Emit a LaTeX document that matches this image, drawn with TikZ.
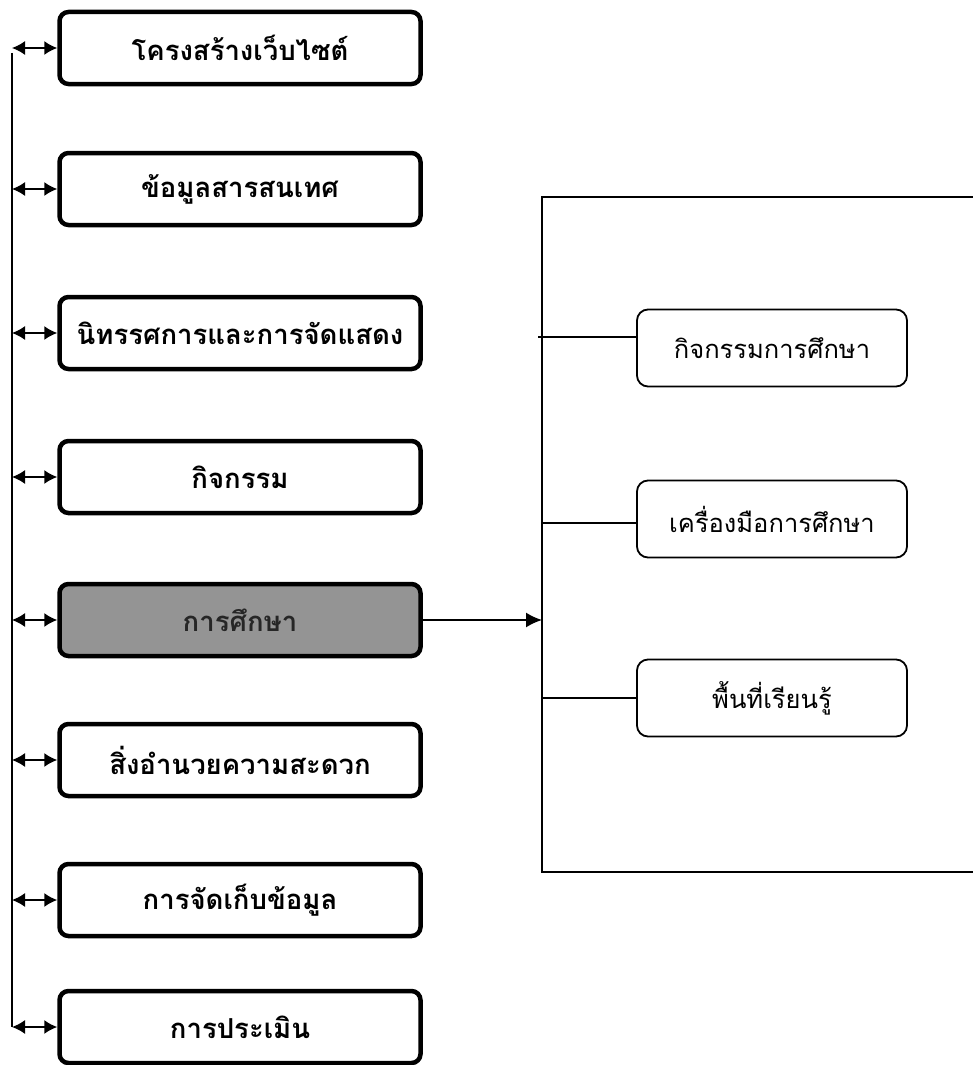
\documentclass[tikz,border=0pt]{standalone}
\usepackage{fontspec}
\newfontfamily\thaifont[Script=Thai]{Loma}
\usetikzlibrary{arrows.meta}
\begin{document}
\begin{tikzpicture}[x=1pt,y=-1pt,line width=1.6pt,
    menubox/.style={draw,line width=4.5pt,rounded corners=9pt,minimum width=361pt,minimum height=72pt,
      font=\thaifont\bfseries\fontsize{27.5}{32}\selectfont},
    current/.style={menubox,fill=black!42,text=black!85},
    subbox/.style={draw,line width=1.8pt,rounded corners=11pt,minimum width=270pt,minimum height=77pt,
      font=\thaifont\fontsize{25.5}{30}\selectfont},
    link/.style={arrows={Latex[length=13pt,width=14pt]-Latex[length=13pt,width=14pt]}},
    feed/.style={arrows={-Latex[length=16pt,width=15pt]}}]
    \useasboundingbox(0,0)rectangle(973,1065);
    \foreach \i/\y/\s/\t in {1/48/menubox/โครงสร้างเว็บไซต์,2/189/menubox/ข้อมูลสารสนเทศ,
        3/333/menubox/นิทรรศการและการจัดแสดง,4/477/menubox/กิจกรรม,5/620/current/การศึกษา,
        6/760/menubox/สิ่งอำนวยความสะดวก,7/900/menubox/การจัดเก็บข้อมูล,8/1027/menubox/การประเมิน}
        \node[\s](m\i)at(240,\y){\t};
    \coordinate(trunk)at(12,0);
    \draw(trunk|-m1)++(0,5)--(trunk|-m8);
    \foreach \i in {1,...,8}\draw[link](trunk|-m\i)--(m\i.west);
    \coordinate(ftop)at(542,197);\coordinate(fbot)at(542,872);
    \draw(ftop)++(440,0)--(ftop)--(fbot)--++(440,0);
    \draw[feed](m5.east)--(m5-|ftop);
    \node[subbox](k1)at(772,348){กิจกรรมการศึกษา};
    \node[subbox](k2)at(772,519){เครื่องมือการศึกษา};
    \node[subbox](k3)at(772,698){พื้นที่เรียนรู้};
    \coordinate(j1)at(538,337);\coordinate(j2)at(542,523);\coordinate(j3)at(542,698);
    \draw(j1)--(j1-|k1.west);\draw(j2)--(j2-|k2.west);\draw(j3)--(j3-|k3.west);
\end{tikzpicture}
\end{document}
